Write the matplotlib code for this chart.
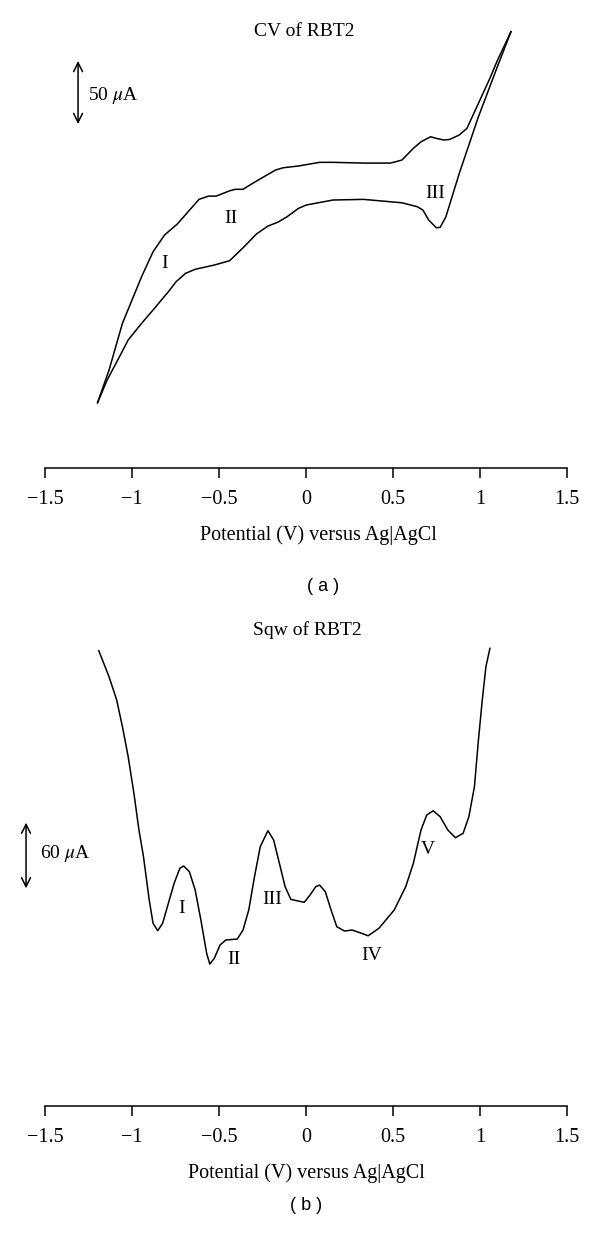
import numpy as np
import matplotlib
matplotlib.use("Agg")
import matplotlib.pyplot as plt

# CV of RBT2: forward (upper) and reverse (lower) branches, potential in V, current in uA
cv_fwd_v = [-1.198, -1.132, -1.088, -1.055, -1.000, -0.945, -0.879, -0.813, -0.740, -0.615,
            -0.560, -0.516, -0.439, -0.406, -0.362, -0.307, -0.175, -0.131, -0.043, 0.078,
            0.155, 0.331, 0.485, 0.551, 0.617, 0.661, 0.716, 0.749, 0.793, 0.826,
            0.881, 0.925, 1.057, 1.101, 1.178]
cv_fwd_i = [-81.5, -55.6, -34.4, -18.5, 0.0, 18.5, 38.3, 51.6, 60.3, 79.9,
            82.5, 82.5, 86.7, 87.9, 87.9, 92.6, 103.2, 105.0, 106.4, 109.3,
            109.3, 108.7, 108.7, 111.1, 120.4, 125.6, 129.6, 128.3, 127.0, 127.5,
            131.0, 136.3, 176.0, 190.5, 213.0]
cv_rev_v = [1.178, 1.101, 0.991, 0.881, 0.804, 0.771, 0.749, 0.705, 0.672, 0.639,
            0.551, 0.331, 0.155, 0.001, -0.043, -0.109, -0.160, -0.219, -0.285, -0.360,
            -0.439, -0.527, -0.637, -0.692, -0.747, -0.791, -0.879, -0.945, -1.022, -1.077,
            -1.143, -1.198]
cv_rev_i = [213.0, 185.6, 145.5, 100.6, 66.1, 57.7, 57.4, 63.5, 71.4, 74.1,
            77.2, 79.9, 79.4, 75.4, 72.8, 66.1, 61.9, 58.7, 52.4, 41.7,
            31.2, 27.8, 24.4, 21.2, 14.5, 6.6, -7.9, -18.5, -31.7, -46.3,
            -63.5, -81.5]
cv_peaks = ["I", "II", "III"]
cv_peak_v = [-0.813, -0.430, 0.744]
cv_peak_i = [29.1, 64.8, 84.7]

# Square wave voltammogram of RBT2
sqw_v = [-1.191, -1.132, -1.088, -1.055, -1.022, -0.989, -0.960, -0.934, -0.901, -0.879,
         -0.852, -0.824, -0.791, -0.758, -0.725, -0.703, -0.670, -0.637, -0.604, -0.571,
         -0.553, -0.527, -0.494, -0.461, -0.395, -0.362, -0.329, -0.296, -0.263, -0.219,
         -0.186, -0.153, -0.120, -0.087, -0.010, 0.023, 0.056, 0.078, 0.111, 0.144,
         0.177, 0.221, 0.265, 0.320, 0.357, 0.419, 0.507, 0.573, 0.617, 0.661,
         0.694, 0.731, 0.771, 0.815, 0.859, 0.903, 0.936, 0.968, 0.991, 1.013,
         1.034, 1.057]
sqw_i = [322.4, 298.4, 276.9, 252.3, 224.6, 190.8, 156.9, 132.3, 92.3, 70.8,
         64.0, 70.8, 89.3, 107.7, 121.6, 123.7, 118.4, 101.5, 73.8, 43.1,
         33.2, 38.5, 50.8, 55.4, 56.3, 64.6, 83.1, 113.8, 141.5, 156.3,
         147.7, 126.2, 104.6, 92.9, 90.2, 96.9, 104.6, 106.1, 100.0, 83.1,
         67.7, 63.7, 64.6, 61.6, 59.3, 66.2, 83.1, 104.6, 126.2, 156.9,
         170.8, 174.7, 169.2, 156.9, 149.8, 153.9, 169.2, 196.9, 240.0, 276.9,
         307.6, 324.6]
sqw_peaks = ["I", "II", "III", "IV", "V"]
sqw_peak_v = [-0.713, -0.417, -0.197, 0.375, 0.701]
sqw_peak_i = [84.6, 37.6, 92.9, 41.5, 139.1]

xticks = [-1.5, -1, -0.5, 0, 0.5, 1, 1.5]
xticklabels = ["\u22121.5", "\u22121", "\u22120.5", "0", "0.5", "1", "1.5"]

plt.rcParams["font.family"] = ["Liberation Serif", "DejaVu Serif"]
plt.rcParams["mathtext.fontset"] = "stix"

W, H = 600, 1237
fig = plt.figure(figsize=(W / 100, H / 100), dpi=100)


def fy(py):
    # pixel row -> figure fraction
    return 1 - py / H


def style_axis(ax):
    for s in ["left", "top", "right"]:
        ax.spines[s].set_visible(False)
    ax.spines["bottom"].set_linewidth(1.1)
    ax.set_yticks([])
    ax.set_xlim(-1.5, 1.5)
    ax.set_xticks(xticks)
    ax.set_xticklabels(xticklabels)
    ax.tick_params(axis="x", direction="out", length=7, width=1.1, pad=9, labelsize=14.5)
    ax.patch.set_alpha(0)


arrow_style = dict(arrowstyle="<->", lw=1.1, color="black", mutation_scale=16,
                   shrinkA=0, shrinkB=0)

# ---- (a) CV ----
ax1 = fig.add_axes([45 / W, fy(468), 522 / W, fy(25) - fy(468)])
style_axis(ax1)
ax1.set_ylim(-133.3, 218.3)
ax1.plot(cv_fwd_v, cv_fwd_i, color="black", lw=1.1)
ax1.plot(cv_rev_v, cv_rev_i, color="black", lw=1.1)
for lab, v, i in zip(cv_peaks, cv_peak_v, cv_peak_i):
    ax1.text(v, i, lab, ha="center", va="center", fontsize=14)
ax1.annotate("", xy=(-1.31, 189.7), xytext=(-1.31, 139.7),
             arrowprops=arrow_style, annotation_clip=False)
ax1.text(-1.253, 162.7, r"50 $\mu$A", ha="left", va="center", fontsize=14)
ax1.set_xlabel("Potential (V) versus Ag|AgCl", fontsize=14.5)
ax1.xaxis.set_label_coords((318 - 45) / 522, -(525 - 468) / (468 - 25), transform=ax1.transAxes)
fig.text(304 / W, fy(32), "CV of RBT2", ha="center", va="center", fontsize=14)
fig.text(323 / W, fy(587), "( a )", ha="center", va="center", fontsize=13,
         family=["Liberation Sans", "DejaVu Sans"])

# ---- (b) SQW ----
ax2 = fig.add_axes([45 / W, fy(1106), 522 / W, fy(640) - fy(1106)])
style_axis(ax2)
ax2.set_ylim(-97.8, 332.3)
ax2.plot(sqw_v, sqw_i, color="black", lw=1.1)
for lab, v, i in zip(sqw_peaks, sqw_peak_v, sqw_peak_i):
    ax2.text(v, i, lab, ha="center", va="center", fontsize=14)
ax2.annotate("", xy=(-1.609, 163.7), xytext=(-1.609, 103.1),
             arrowprops=arrow_style, annotation_clip=False)
ax2.text(-1.529, 135.7, r"60 $\mu$A", ha="left", va="center", fontsize=14)
ax2.set_xlabel("Potential (V) versus Ag|AgCl", fontsize=14.5)
ax2.xaxis.set_label_coords(0.5, -(1163 - 1106) / (1106 - 640), transform=ax2.transAxes)
fig.text(307 / W, fy(630), "Sqw of RBT2", ha="center", va="center", fontsize=14)
fig.text(306 / W, fy(1205), "( b )", ha="center", va="center", fontsize=13,
         family=["Liberation Sans", "DejaVu Sans"])

fig.savefig("out.png", dpi=100)
